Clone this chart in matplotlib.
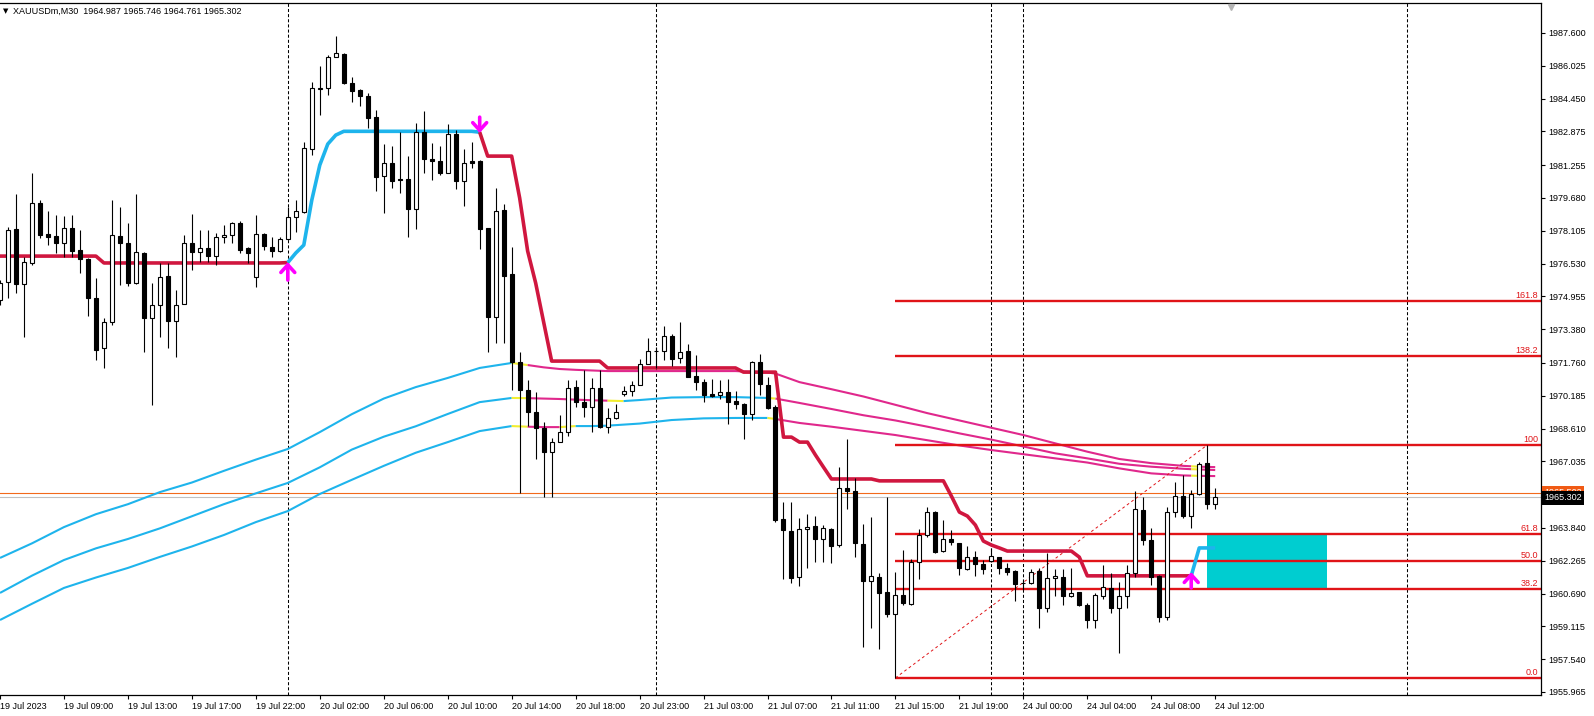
import numpy as np
import matplotlib
matplotlib.use('Agg')
import matplotlib.pyplot as plt
from matplotlib.patches import Rectangle
from matplotlib.transforms import blended_transform_factory

plt.rcParams['font.family'] = ['Liberation Sans', 'DejaVu Sans']
plt.rcParams['lines.scale_dashes'] = False

# M30 bars, bar 0 = 19 Jul 05:00 ... bar 152 = 24 Jul 12:00
opens = [
    1974.78, 1975.64, 1978.19, 1975.55, 1976.56, 1979.44, 1977.95, 1977.85, 1977.52, 1978.24,
    1977.18, 1976.75, 1974.88, 1972.48, 1973.72, 1977.85, 1977.52, 1975.60, 1977.04, 1973.90,
    1974.54, 1975.93, 1973.77, 1974.59, 1977.52, 1977.09, 1977.28, 1976.89, 1977.80, 1977.90,
    1978.48, 1977.28, 1975.88, 1977.95, 1977.32, 1977.14, 1977.71, 1978.76, 1979.00, 1982.03,
    1984.93, 1984.96, 1986.44, 1986.59, 1985.20, 1984.86, 1984.57, 1983.57, 1980.73, 1981.36,
    1980.58, 1980.58, 1979.15, 1982.84, 1981.55, 1981.46, 1980.88, 1982.75, 1980.49, 1981.46,
    1981.46, 1978.24, 1973.96, 1979.10, 1976.02, 1971.81, 1970.46, 1969.40, 1968.64, 1967.49,
    1967.97, 1968.44, 1970.60, 1969.88, 1969.64, 1970.56, 1968.68, 1969.12, 1970.27, 1970.41,
    1970.70, 1971.71, 1972.33, 1972.33, 1973.06, 1972.00, 1972.33, 1971.14, 1970.84, 1970.27,
    1970.22, 1970.36, 1969.93, 1969.79, 1969.31, 1971.81, 1970.70, 1969.64, 1964.27, 1963.70,
    1961.49, 1963.79, 1963.93, 1963.31, 1963.79, 1963.02, 1965.76, 1965.62, 1963.06, 1961.30,
    1961.49, 1960.76, 1959.70, 1960.62, 1960.19, 1962.20, 1963.50, 1964.60, 1962.72, 1963.31,
    1963.12, 1961.87, 1962.44, 1962.11, 1962.25, 1962.44, 1961.92, 1961.78, 1961.20, 1961.20,
    1961.78, 1960.00, 1961.44, 1961.49, 1960.57, 1960.76, 1960.14, 1959.42, 1960.57, 1960.96,
    1960.00, 1960.57, 1961.68, 1964.70, 1963.26, 1961.53, 1959.56, 1964.60, 1965.37, 1964.41,
    1965.47, 1966.96, 1964.987]
highs = [
    1975.74, 1978.28, 1979.87, 1976.84, 1980.88, 1979.58, 1979.05, 1978.86, 1978.81, 1978.86,
    1978.14, 1976.80, 1975.84, 1973.90, 1979.58, 1979.24, 1978.48, 1979.87, 1977.09, 1975.60,
    1976.56, 1976.56, 1975.26, 1977.90, 1978.91, 1978.14, 1978.14, 1978.00, 1978.38, 1978.52,
    1978.57, 1977.32, 1978.86, 1978.00, 1977.80, 1977.80, 1979.24, 1979.58, 1982.37, 1985.25,
    1986.01, 1986.54, 1987.45, 1986.64, 1985.48, 1984.91, 1984.72, 1983.90, 1982.27, 1982.18,
    1982.85, 1981.70, 1983.28, 1983.86, 1982.32, 1982.18, 1983.23, 1982.94, 1982.03, 1982.37,
    1981.50, 1978.24, 1980.16, 1979.39, 1977.32, 1972.28, 1970.94, 1970.36, 1968.92, 1968.16,
    1969.26, 1970.94, 1970.94, 1971.42, 1971.04, 1971.42, 1969.60, 1969.79, 1970.65, 1970.89,
    1971.95, 1972.96, 1972.52, 1973.54, 1973.16, 1973.72, 1972.66, 1972.14, 1970.98, 1970.98,
    1970.94, 1970.98, 1970.41, 1969.84, 1971.86, 1972.18, 1971.09, 1969.74, 1965.08, 1965.08,
    1964.32, 1964.51, 1964.41, 1963.98, 1963.84, 1966.76, 1968.11, 1966.24, 1964.03, 1964.37,
    1961.68, 1965.34, 1961.73, 1962.78, 1962.35, 1963.79, 1964.84, 1964.65, 1964.22, 1963.74,
    1963.12, 1962.97, 1962.73, 1962.30, 1962.88, 1962.44, 1962.16, 1961.82, 1961.34, 1961.87,
    1961.92, 1962.64, 1961.87, 1961.87, 1961.92, 1960.76, 1960.24, 1960.72, 1962.06, 1961.68,
    1961.25, 1962.06, 1965.62, 1965.34, 1963.84, 1961.58, 1964.84, 1966.04, 1966.38, 1965.66,
    1967.00, 1967.82, 1965.746]
lows = [
    1974.54, 1974.88, 1975.12, 1973.00, 1976.46, 1977.76, 1977.42, 1977.04, 1976.84, 1976.84,
    1976.08, 1974.02, 1971.90, 1971.50, 1973.58, 1975.50, 1975.46, 1975.55, 1972.28, 1969.74,
    1973.00, 1972.48, 1972.04, 1974.59, 1976.22, 1976.60, 1976.60, 1976.46, 1977.52, 1977.52,
    1977.04, 1976.56, 1975.41, 1977.18, 1976.84, 1977.09, 1977.66, 1978.04, 1978.96, 1981.74,
    1983.66, 1984.62, 1986.44, 1985.15, 1984.28, 1984.09, 1983.04, 1980.01, 1978.96, 1980.16,
    1979.92, 1977.80, 1978.19, 1980.88, 1980.54, 1980.78, 1980.88, 1980.11, 1979.29, 1981.12,
    1977.23, 1972.28, 1972.72, 1972.72, 1970.46, 1965.52, 1968.73, 1967.15, 1965.34, 1965.34,
    1967.97, 1968.25, 1969.64, 1969.16, 1968.44, 1968.64, 1968.40, 1969.07, 1970.17, 1970.17,
    1970.70, 1971.71, 1971.50, 1971.90, 1971.62, 1971.76, 1971.09, 1970.46, 1969.88, 1970.12,
    1970.03, 1968.83, 1969.55, 1968.11, 1969.02, 1970.22, 1969.55, 1964.12, 1961.39, 1961.20,
    1961.06, 1961.92, 1962.20, 1962.20, 1962.16, 1962.92, 1964.75, 1962.44, 1958.12, 1959.04,
    1958.02, 1959.56, 1956.64, 1960.14, 1960.14, 1961.39, 1963.40, 1962.64, 1962.68, 1963.02,
    1961.58, 1961.82, 1961.54, 1961.63, 1962.20, 1961.63, 1961.58, 1960.33, 1960.86, 1961.15,
    1959.04, 1959.80, 1960.57, 1960.14, 1960.52, 1960.09, 1959.04, 1959.04, 1960.43, 1959.76,
    1957.84, 1960.00, 1961.49, 1963.02, 1961.10, 1959.32, 1959.42, 1964.36, 1964.32, 1963.84,
    1965.42, 1964.75, 1964.761]
closes = [
    1975.60, 1978.14, 1975.55, 1976.60, 1979.44, 1977.90, 1977.80, 1977.52, 1978.24, 1977.14,
    1976.75, 1974.88, 1972.38, 1973.72, 1977.90, 1977.52, 1975.60, 1977.09, 1973.90, 1974.54,
    1975.88, 1973.77, 1974.54, 1977.52, 1977.09, 1977.28, 1976.89, 1977.80, 1977.90, 1978.48,
    1977.18, 1977.04, 1977.95, 1977.37, 1977.14, 1977.71, 1978.76, 1979.05, 1982.08, 1984.96,
    1984.98, 1986.44, 1986.64, 1985.20, 1984.81, 1984.57, 1983.52, 1980.68, 1981.36, 1980.49,
    1980.55, 1979.15, 1982.84, 1981.55, 1981.46, 1980.88, 1982.75, 1980.49, 1981.36, 1981.36,
    1978.19, 1973.96, 1979.05, 1975.93, 1971.81, 1970.46, 1969.40, 1968.64, 1967.49, 1967.97,
    1968.44, 1970.56, 1969.88, 1969.64, 1970.56, 1968.68, 1969.12, 1969.40, 1970.41, 1970.70,
    1971.71, 1972.33, 1972.35, 1973.06, 1971.95, 1972.28, 1971.09, 1970.84, 1970.22, 1970.17,
    1970.36, 1969.88, 1969.79, 1969.31, 1971.81, 1970.75, 1969.60, 1964.22, 1963.74, 1961.44,
    1963.79, 1963.88, 1963.31, 1963.84, 1962.97, 1965.76, 1965.62, 1963.12, 1961.30, 1961.54,
    1960.72, 1959.70, 1960.62, 1960.24, 1962.20, 1963.50, 1964.60, 1962.68, 1963.31, 1963.16,
    1961.92, 1962.44, 1962.11, 1961.87, 1962.49, 1961.92, 1961.73, 1961.15, 1961.22, 1961.73,
    1960.00, 1961.44, 1961.54, 1960.57, 1960.72, 1960.14, 1959.42, 1960.62, 1961.00, 1960.00,
    1960.57, 1961.68, 1964.75, 1963.26, 1961.49, 1959.56, 1964.60, 1965.37, 1964.41, 1965.47,
    1966.91, 1964.99, 1965.302]

# trailing stop line (one value per bar) and where it changes side
trend = ([1976.89] * 13 + [1976.56] * 23 + [1976.58,
         1977.04, 1977.42, 1979.58, 1981.26, 1982.27, 1982.70] + [1982.88] * 17 +
         [1982.84] + [1981.69] * 4 + [1979.68, 1977.13, 1975.60, 1973.72] +
         [1971.85] * 7 + [1971.52] * 17 + [1971.32] * 5 +
         [1968.20, 1968.20, 1967.96, 1967.96, 1967.34, 1966.76] + [1966.19] * 6 +
         [1966.10] * 9 + [1965.37, 1964.60, 1964.41, 1963.98, 1963.21, 1963.02, 1962.88] +
         [1962.73] * 9 + [1962.44] + [1961.54] * 14 + [1962.88] * 3)
trend_segments = [(0, 36, 'dn'), (36, 60, 'up'), (60, 149, 'dn'), (149, 152, 'up')]

# signal arrows: bar, tip price, tail price
arrow_up_bars = [36, 149]
arrow_up_tip = [1976.60, 1961.72]
arrow_up_tail = [1975.74, 1960.96]
arrow_dn_bars = [60]
arrow_dn_tip = [1982.80]
arrow_dn_tail = [1983.56]

# three-line channel
band_bars = [0, 4, 8, 12, 16, 20, 24, 28, 32, 36, 40, 44, 48, 52, 56, 60, 64, 66, 68, 70,
             72, 74, 76, 78, 80, 84, 88, 92, 96, 97, 100, 104, 108, 112, 116, 120, 124,
             128, 132, 136, 140, 144, 148, 149, 150, 152]
band_upper = [1962.40, 1963.10, 1963.88, 1964.50, 1964.98, 1965.56, 1966.02, 1966.58, 1967.12,
              1967.63, 1968.44, 1969.30, 1970.05, 1970.60, 1971.04, 1971.52, 1971.76, 1971.66,
              1971.55, 1971.47, 1971.43, 1971.40, 1971.37, 1971.37, 1971.37, 1971.37, 1971.37,
              1971.37, 1971.30, 1971.25, 1970.84, 1970.50, 1970.15, 1969.75, 1969.35, 1969.00,
              1968.65, 1968.30, 1967.90, 1967.50, 1967.15, 1966.95, 1966.82, 1966.80, 1966.78,
              1966.76]
band_mid = [1960.72, 1961.55, 1962.30, 1962.86, 1963.31, 1963.82, 1964.40, 1964.98, 1965.50,
            1966.00, 1966.75, 1967.60, 1968.22, 1968.72, 1969.31, 1969.88, 1970.08, 1970.07,
            1970.05, 1970.03, 1970.00, 1969.97, 1969.95, 1969.93, 1969.98, 1970.10, 1970.12,
            1970.12, 1970.08, 1970.05, 1969.84, 1969.55, 1969.25, 1969.00, 1968.70, 1968.38,
            1968.08, 1967.75, 1967.42, 1967.18, 1966.92, 1966.78, 1966.68, 1966.66, 1966.65,
            1966.62]
band_lower = [1959.42, 1960.20, 1960.96, 1961.46, 1961.92, 1962.45, 1962.95, 1963.50, 1964.12,
              1964.65, 1965.47, 1966.15, 1966.82, 1967.45, 1967.96, 1968.49, 1968.73, 1968.70,
              1968.68, 1968.68, 1968.73, 1968.73, 1968.75, 1968.80, 1968.85, 1969.02, 1969.10,
              1969.12, 1969.12, 1969.07, 1968.88, 1968.70, 1968.50, 1968.30, 1968.05, 1967.80,
              1967.58, 1967.38, 1967.18, 1966.98, 1966.70, 1966.46, 1966.36, 1966.35, 1966.34,
              1966.33]
upper_state = [(0, 64, 'up'), (64, 66, 'flat'), (66, 149, 'dn'), (149, 150, 'flat'), (150, 152, 'dn')]
mid_state = [(0, 64, 'up'), (64, 66, 'flat'), (66, 76, 'dn'), (76, 78, 'flat'), (78, 96, 'up'),
             (96, 97, 'flat'), (97, 149, 'dn'), (149, 150, 'flat'), (150, 152, 'dn')]
lower_state = [(0, 64, 'up'), (64, 66, 'flat'), (66, 70, 'dn'), (70, 72, 'flat'), (72, 96, 'up'),
               (96, 97, 'flat'), (97, 149, 'dn'), (149, 150, 'flat'), (150, 152, 'dn')]

# fibonacci retracement
fib_low_bar, fib_low = 112, 1956.64
fib_high_bar, fib_high = 151, 1967.82
fib_levels = [0.0, 38.2, 50.0, 61.8, 100.0, 138.2, 161.8]
fib_labels = ['0.0', '38.2', '50.0', '61.8', '100', '138.2', '161.8']

# zone rectangle
zone_bars = (151, 166)
zone_prices = (1960.96, 1963.55)

bid, ask = 1965.302, 1965.502
day_seps = [36, 82, 124, 128, 176]

price_ticks = [1987.600, 1986.025, 1984.450, 1982.875, 1981.255, 1979.680, 1978.105,
               1976.530, 1974.955, 1973.380, 1971.760, 1970.185, 1968.610, 1967.035,
               1963.840, 1962.265, 1960.690, 1959.115, 1957.540, 1955.965]
time_ticks = list(range(0, 153, 8))
time_labels = ['19 Jul 2023', '19 Jul 09:00', '19 Jul 13:00', '19 Jul 17:00', '19 Jul 22:00',
               '20 Jul 02:00', '20 Jul 06:00', '20 Jul 10:00', '20 Jul 14:00', '20 Jul 18:00',
               '20 Jul 23:00', '21 Jul 03:00', '21 Jul 07:00', '21 Jul 11:00', '21 Jul 15:00',
               '21 Jul 19:00', '24 Jul 00:00', '24 Jul 04:00', '24 Jul 08:00', '24 Jul 12:00']

colors = {'up': '#1eb4ec', 'dn': '#e0288c', 'flat': '#f2ee30'}
trend_colors = {'up': '#1eb4ec', 'dn': '#d0173f'}
fib_color = '#e01418'
fs = 6.5

fig = plt.figure(figsize=(15.94, 7.16), dpi=100)
ax = fig.add_axes([0, 21 / 716, 1541 / 1594, 692 / 716])
ax.set_xlim(0.125, 192.75)
ax.set_ylim(1955.82, 1989.04)

# day separators
for b in day_seps:
    ax.axvline(b, color='black', lw=0.75, linestyle=(0, (2.2, 1.5)), zorder=1)

# zone
ax.add_patch(Rectangle((zone_bars[0], zone_prices[0]), zone_bars[1] - zone_bars[0],
                       zone_prices[1] - zone_prices[0], facecolor='#00cdd0',
                       edgecolor='none', zorder=1.2))

# ask / bid lines
ax.axhline(ask, color='#f26a1b', lw=0.8, zorder=1.5)
ax.axhline(bid, color='#c0c0c0', lw=0.8, zorder=1.5)


def draw_states(xs, ys, states, cmap, lw, z):
    xs = np.asarray(xs)
    ys = np.asarray(ys)
    for s, e, st in states:
        m = (xs >= s) & (xs <= e)
        ax.plot(xs[m], ys[m], color=cmap[st], lw=lw, zorder=z, solid_capstyle='butt')


for vals, st in [(band_upper, upper_state), (band_mid, mid_state), (band_lower, lower_state)]:
    draw_states(band_bars, vals, st, colors, 1.5, 2)

# fibonacci
rng = fib_high - fib_low
for lvl, lab in zip(fib_levels, fib_labels):
    p = fib_low + rng * lvl / 100.0
    ax.plot([fib_low_bar, 192.75], [p, p], color=fib_color, lw=1.7, zorder=2.5,
            solid_capstyle='butt')
    ax.text(192.4, p + 0.06, lab, color=fib_color, fontsize=fs, ha='right', va='bottom',
            zorder=6)
ax.plot([fib_low_bar, fib_high_bar], [fib_low, fib_high], color=fib_color, lw=0.7,
        linestyle=(0, (2, 2)), zorder=2.5)

# trailing line
bars = np.arange(len(trend))
draw_states(bars, trend, trend_segments, trend_colors, 2.6, 3)

# candles
o = np.array(opens)
h = np.array(highs)
l = np.array(lows)
c = np.array(closes)
ax.vlines(bars, l, h, color='black', lw=0.8, zorder=4)
bull = c >= o
ax.bar(bars[bull], c[bull] - o[bull], bottom=o[bull], width=0.5, facecolor='white',
       edgecolor='black', lw=0.8, zorder=5)
ax.bar(bars[~bull], o[~bull] - c[~bull], bottom=c[~bull], width=0.5, facecolor='black',
       edgecolor='black', lw=0.8, zorder=5)

# arrows
for b, tip, tail in zip(arrow_up_bars, arrow_up_tip, arrow_up_tail):
    ax.annotate('', xy=(b, tip), xytext=(b, tail),
                arrowprops=dict(arrowstyle='->, head_length=0.55, head_width=0.5',
                                color='#ff00ff', lw=2.6, shrinkA=0, shrinkB=0), zorder=7)
for b, tip, tail in zip(arrow_dn_bars, arrow_dn_tip, arrow_dn_tail):
    ax.annotate('', xy=(b, tip), xytext=(b, tail),
                arrowprops=dict(arrowstyle='->, head_length=0.55, head_width=0.5',
                                color='#ff00ff', lw=2.6, shrinkA=0, shrinkB=0), zorder=7)

# chart shift marker
ax.plot([154], [1988.85], marker='v', color='#b4b4b4', ms=5, zorder=7, clip_on=False)

# axes styling
ax.spines['left'].set_visible(False)
for side in ['top', 'right', 'bottom']:
    ax.spines[side].set_linewidth(0.9)
ax.yaxis.tick_right()
ax.set_yticks(price_ticks)
ax.set_yticklabels(['%.3f' % t for t in price_ticks])
ax.set_xticks(time_ticks)
ax.set_xticklabels(time_labels)
ax.tick_params(axis='both', labelsize=fs, length=3, width=0.8, direction='out', pad=2)
for lbl in ax.get_xticklabels():
    lbl.set_horizontalalignment('left')

# price labels on axis
tr = blended_transform_factory(ax.transAxes, ax.transData)
ax.text(1.002, ask + 0.02, '1965.502', transform=tr, color='white', fontsize=fs, va='center',
        ha='left', bbox=dict(facecolor='#f05a14', edgecolor='none', pad=1.6), clip_on=False,
        zorder=8)
ax.text(1.002, bid - 0.02, '%.3f' % bid, transform=tr, color='white', fontsize=fs,
        va='center', ha='left', bbox=dict(facecolor='black', edgecolor='none', pad=1.6),
        clip_on=False, zorder=9)

# header
fig.text(3 / 1594, 1 - 11 / 716, '\u25bc', fontsize=5, family='DejaVu Sans', va='center')
fig.text(13 / 1594, 1 - 11 / 716, 'XAUUSDm,M30  %.3f %.3f %.3f %.3f'
         % (opens[-1], highs[-1], lows[-1], closes[-1]), fontsize=fs, va='center')

fig.savefig('out.png', dpi=100)
